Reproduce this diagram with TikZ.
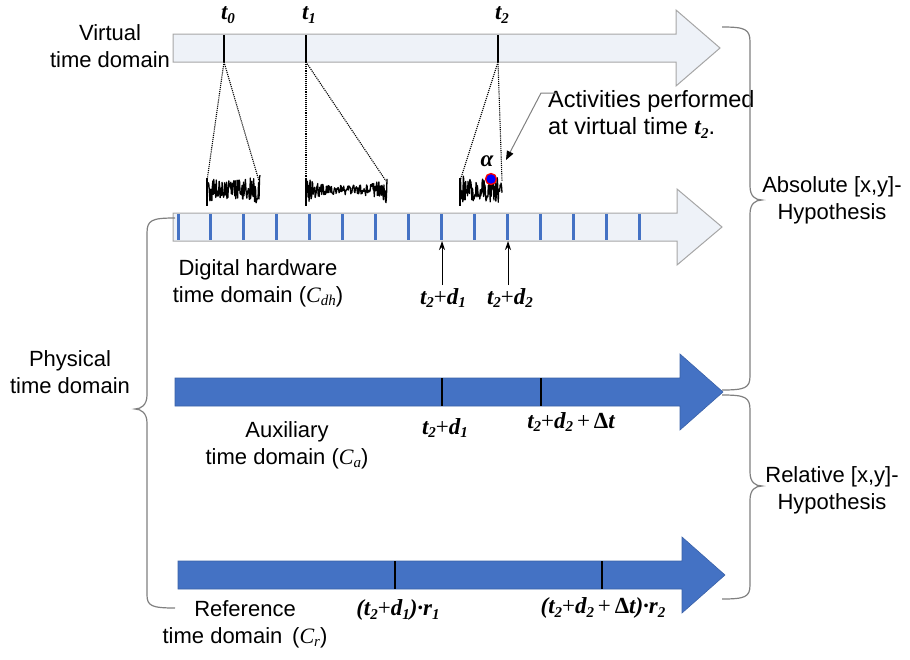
\documentclass[tikz,border=0pt]{standalone}
\usepackage{fontspec}
\setmainfont{Liberation Sans}
\newfontfamily\tms{Liberation Serif}
\usetikzlibrary{arrows.meta}
\definecolor{lightfill}{HTML}{EEF2F8}
\definecolor{lightedge}{HTML}{A6A6A6}
\definecolor{darkblue}{HTML}{4472C4}
\definecolor{bracegray}{HTML}{808080}
\newcommand\tv[1]{{\tms\bfseries\itshape #1}}
\newcommand\pl{{\upshape\mdseries +}}
\newcommand\sbx[1]{\raisebox{-0.35ex}{\fontsize{15}{15}\selectfont #1}}
\newcommand\fatarrow[5]{%
 \draw[#5] (#1,#2-14) -- (#3,#2-14) -- (#3,#2-38) -- (#4,#2) -- (#3,#2+38) -- (#3,#2+14) -- (#1,#2+14) -- cycle;}
\begin{document}
\begin{tikzpicture}[x=1pt,y=-1pt,
  lightarrow/.style={fill=lightfill,draw=lightedge,line width=1pt},
  darkarrow/.style={fill=darkblue,draw=darkblue!85!black,line width=0.6pt},
  blacktick/.style={line width=2.2pt,black},
  bluetick/.style={line width=3pt,darkblue},
  txt/.style={font=\fontsize{22}{27}\selectfont,align=center,inner sep=0pt},
  tlab/.style={font=\fontsize{23}{26}\selectfont,inner sep=0pt},
  noise/.style={line width=1.3pt,line join=round,black},
  dots/.style={densely dotted,line width=1.1pt,black},
  bracestyle/.style={bracegray,line width=1.2pt},
  uparrow/.style={line width=1pt,-{Stealth[length=9pt,width=6pt]}}]
\useasboundingbox (0,0) rectangle (910,659);

% ---------- arrows ----------
\fatarrow{173}{48}{676}{720}{lightarrow}
\fatarrow{173}{227}{677}{722}{lightarrow}
\fatarrow{175}{392}{680}{723}{darkarrow}
\fatarrow{178}{575}{682}{725}{darkarrow}

% ---------- virtual ticks ----------
\foreach \n/\xx in {t0/224,t1/306,t2/498}{
  \coordinate (\n top) at (\xx,35);
  \coordinate (\n bot) at (\xx,62);
  \draw[blacktick] (\n top) -- (\n bot);
}
\node[tlab] (lt0) at (228,15) {\tv{t\sbx{0}}};
\node[tlab] (lt1) at (309,15) {\tv{t\sbx{1}}};
\node[tlab] (lt2) at (502,15) {\tv{t\sbx{2}}};

% ---------- digital ticks ----------
\foreach \i in {0,...,14}{
  \draw[bluetick] ({178+\i*32.93},214) -- ({178+\i*32.93},240);
}
\coordinate (dA) at (442,241);
\coordinate (dB) at (508,241);
\coordinate (dAs) at (442,285);
\coordinate (dBs) at (508,285);
\draw[uparrow] (dAs) -- (dA);
\draw[uparrow] (dBs) -- (dB);

% ---------- noise ----------
\pgfmathsetseed{11}
\draw[noise] plot[domain=207:260,samples=110] (\x,{190+(10+5*((\x-233)/27)^2)*rand});
\draw[noise] plot[domain=306:387,samples=160] (\x,{190+(5+10*((\x-346)/41)^4)*rand});
\draw[noise] plot[domain=460:502,samples=90] (\x,{190+(11+5*((\x-480)/22)^2)*rand});
\draw[noise] (207,178) -- (207,206);
\draw[noise] (306,178) -- (306,206);
\draw[noise] (460,178) -- (460,206);

% dotted fan lines
\coordinate (w0l) at (207,181); \coordinate (w0r) at (259,181);
\coordinate (w1l) at (306,181); \coordinate (w1r) at (386,181);
\coordinate (w2l) at (460,181); \coordinate (w2r) at (502,181);
\draw[dots] (t0bot) -- (w0l); \draw[dots] (t0bot) -- (w0r);
\draw[dots] (t1bot) -- (w1l); \draw[dots] (t1bot) -- (w1r);
\draw[dots] (t2bot) -- (w2l); \draw[dots] (t2bot) -- (w2r);

% alpha + dot
\node[tlab] (alpha) at (487,161) {\tv{α}};
\node[circle,fill=blue,draw=red,line width=1.3pt,minimum size=11pt,inner sep=0pt] (act) at (491,179) {};

% annotation
\node[txt,anchor=north west,align=left,font=\fontsize{23.5}{27}\selectfont] (ann) at (548,90) {Activities performed\\at virtual time \tv{t\sbx{2}}.};
\coordinate (annA) at (557,93);
\coordinate (annB) at (541,93);
\coordinate (annC) at (506,160);
\draw[gray,line width=1pt,-{Triangle[length=9pt,width=7pt,black]}] (annA) -- (annB) -- (annC);

% ---------- aux / ref ticks ----------
\draw[blacktick] (442,378) -- (442,406);
\draw[blacktick] (541,378) -- (541,406);
\draw[blacktick] (395,561) -- (395,589);
\draw[blacktick] (602,561) -- (602,589);

% ---------- labels ----------
\node[txt] (vtd) at (110,46) {Virtual\\time domain};
\node[txt] (dhw) at (258,283) {Digital hardware\\time domain ({\tms\itshape C\sbx{dh}})};
\node[txt] (aux) at (287,445) {Auxiliary\\time domain ({\tms\itshape C\sbx{a}})};
\node[txt] (refd) at (245,624) {Reference\\time domain \,({\tms\itshape C\sbx{r}})};
\node[txt] (phy) at (70,372) {Physical\\time domain};
\node[txt] (abs) at (832,200) {Absolute [x,y]-\\Hypothesis};
\node[txt] (rel) at (832,490) {Relative [x,y]-\\Hypothesis};

\node[tlab] (l1) at (443,298) {\tv{t\sbx{2}\pl d\sbx{1}}};
\node[tlab] (l2) at (510,298) {\tv{t\sbx{2}\pl d\sbx{2}}};
\node[tlab] (l3) at (445,428) {\tv{t\sbx{2}\pl d\sbx{1}}};
\node[tlab] (l4) at (571,422) {\tv{t\sbx{2}\pl d\sbx{2}\,\pl\,{\upshape Δ}t}};
\node[tlab] (l5) at (398,610) {\tv{(t\sbx{2}\pl d\sbx{1})·r\sbx{1}}};
\node[tlab] (l6) at (603,608) {\tv{(t\sbx{2}\pl d\sbx{2}\,\pl\,{\upshape Δ}t)·r\sbx{2}}};

% ---------- braces ----------
\draw[bracestyle] (722,27) .. controls (745,27) and (750,29) .. (750,42) -- (750,186)
  .. controls (750,196) and (755,200) .. (762,200) .. controls (755,200) and (750,204) .. (750,214)
  -- (750,376) .. controls (750,388) and (745,390) .. (722,390);
\draw[bracestyle] (722,395) .. controls (745,395) and (750,397) .. (750,410) -- (750,472)
  .. controls (750,482) and (755,486) .. (762,486) .. controls (755,486) and (750,490) .. (750,500)
  -- (750,585) .. controls (750,597) and (745,599) .. (722,599);
\draw[bracestyle] (175,218) .. controls (152,218) and (147,220) .. (147,233) -- (147,395)
  .. controls (147,405) and (141,409) .. (135,409) .. controls (141,409) and (147,413) .. (147,423)
  -- (147,595) .. controls (147,606) and (152,608) .. (175,608);
\end{tikzpicture}
\end{document}
